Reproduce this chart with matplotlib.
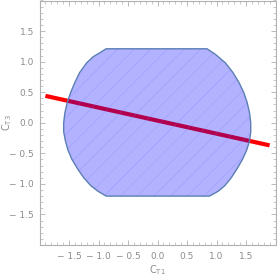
import matplotlib
matplotlib.use("Agg")
import matplotlib.pyplot as plt
from matplotlib.patches import Polygon
from matplotlib.ticker import MultipleLocator
import numpy as np

# Region boundary
left_y  = [1.21, 1.15, 1.08, 0.98, 0.82, 0.66, 0.50, 0.33, 0.16, 0.0, -0.15, -0.30, -0.44, -0.60, -0.76, -0.90, -1.03, -1.12, -1.20]
left_x  = [-0.87, -0.97, -1.09, -1.20, -1.32, -1.40, -1.47, -1.53, -1.57, -1.59, -1.59, -1.56, -1.52, -1.45, -1.35, -1.25, -1.13, -1.01, -0.87]
right_y = [1.21, 1.12, 0.98, 0.82, 0.66, 0.50, 0.33, 0.16, 0.0, -0.15, -0.30, -0.45, -0.60, -0.75, -0.90, -1.03, -1.12, -1.20]
right_x = [0.84, 0.98, 1.15, 1.28, 1.38, 1.46, 1.52, 1.56, 1.58, 1.58, 1.56, 1.51, 1.44, 1.35, 1.25, 1.14, 1.03, 0.88]

# Red line
line_x = [-1.90, 1.90]
line_y = [0.44, -0.37]

tick_vals = [-1.5, -1.0, -0.5, 0.0, 0.5, 1.0, 1.5]
tick_labels = ["\u2212 1.5", "\u2212 1.0", "\u2212 0.5", "0.0", "0.5", "1.0", "1.5"]

gray = "#8c8c8c"
plt.rcParams['hatch.linewidth'] = 0.4

fig = plt.figure(figsize=(2.77, 2.77), dpi=100)
ax = fig.add_axes([39.5/277, 32/277, 236/277, 244.5/277])
ax.set_xlim(-2, 2)
ax.set_ylim(-2, 2)

ax.plot(line_x, line_y, color="#ff0000", lw=3.0, solid_capstyle="butt", zorder=2)

pts = list(zip(right_x, right_y)) + list(zip(left_x[::-1], left_y[::-1]))
poly = Polygon(pts, closed=True, facecolor=(0, 0, 1, 0.3), edgecolor="none", zorder=3)
ax.add_patch(poly)
hatch = Polygon(pts, closed=True, facecolor="none", edgecolor=(0.45, 0.45, 1.0, 0.35),
                hatch="//", lw=0, zorder=3.5)
ax.add_patch(hatch)
edge = Polygon(pts, closed=True, facecolor="none", edgecolor="#5b7fb4", lw=1.0, zorder=4)
ax.add_patch(edge)

ax.set_xticks(tick_vals)
ax.set_xticklabels(tick_labels)
ax.set_yticks(tick_vals)
ax.set_yticklabels(tick_labels)
ax.xaxis.set_minor_locator(MultipleLocator(0.1))
ax.yaxis.set_minor_locator(MultipleLocator(0.1))
ax.tick_params(which="both", direction="in", top=True, right=True, colors="#b0b0b0",
               labelcolor=gray, labelsize=6.5)
ax.tick_params(which="major", length=3.5, width=0.6)
ax.tick_params(which="minor", length=2, width=0.5)
ax.tick_params(axis="x", pad=5)
ax.tick_params(axis="y", pad=4)
for s in ax.spines.values():
    s.set_color("#b0b0b0")
    s.set_linewidth(0.8)

ax.set_xlabel(r"C$_{\mathrm{T1}}$", color=gray, fontsize=7)
ax.set_ylabel(r"C$_{\mathrm{T3}}$", color=gray, fontsize=7)
ax.xaxis.set_label_coords(0.5, -0.075)
ax.yaxis.set_label_coords(-0.11, 0.5)

fig.savefig("out.png", dpi=100)
